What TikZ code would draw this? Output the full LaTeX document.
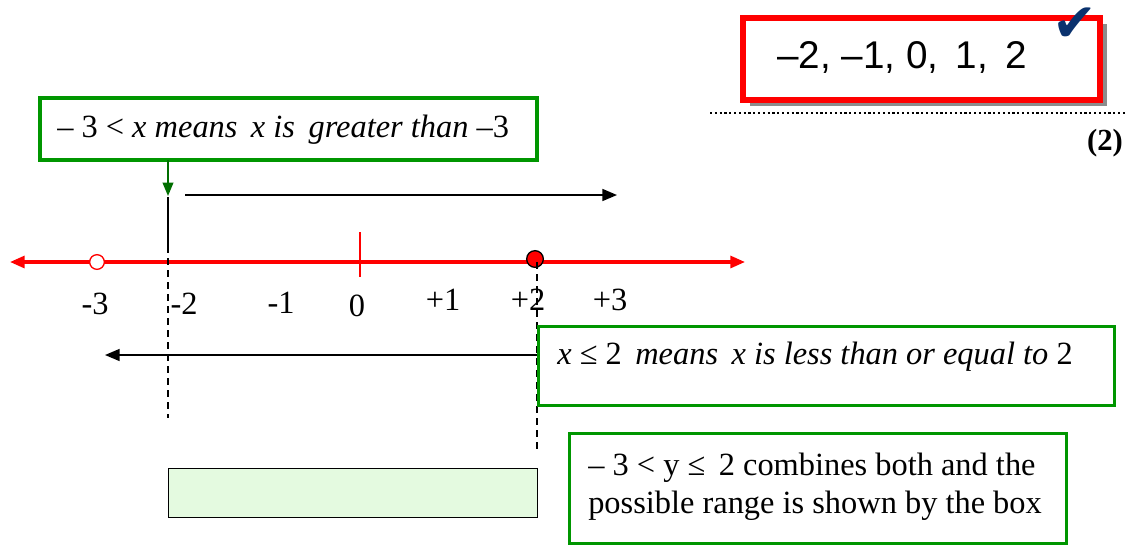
\documentclass[tikz,border=0pt]{standalone}
\usepackage{fontspec}
\setmainfont{Liberation Serif}
\newfontfamily\arialf{Liberation Sans}
\newfontfamily\djv{DejaVu Sans}
\usetikzlibrary{arrows.meta}
\definecolor{gbox}{RGB}{0,150,0}
\definecolor{dgreen}{RGB}{0,110,0}
\definecolor{lgreen}{RGB}{228,250,224}
\definecolor{navyck}{RGB}{10,50,110}
\begin{document}
\begin{tikzpicture}[x=0.75pt,y=-0.75pt,
  gbx/.style={draw=gbox,line width=2.4pt,inner sep=0pt},
  txt/.style={inner sep=0pt,font=\fontsize{24.3}{28}\selectfont},
  numlab/.style={inner sep=0pt,font=\fontsize{24.3}{28}\selectfont},
  redline/.style={draw=red,line width=2.3pt}]
\useasboundingbox (0,0) rectangle (1137,544);

% answer box
\fill[gray!90] (750,24) rectangle (1107,106);
\node[draw=red,fill=white,line width=3.8pt,minimum width=267.75pt,minimum height=61.5pt,inner sep=0pt] (ans) at (921.5,59) {};
\node[inner sep=0pt,font=\arialf\fontsize{29}{32}\selectfont] (anstxt) at (902,57) {–2, –1, 0,\, 1,\, 2};
\node[inner sep=0pt,text=navyck,font=\djv\fontsize{40}{42}\selectfont] (tick) at (1075,25) {✔};
\coordinate (dl) at (710,113);
\coordinate (dr) at (1125,113);
\draw[line width=1.6pt,dotted] (dl) -- (dr);
\node[inner sep=0pt,font=\bfseries\fontsize{23}{26}\selectfont] (two) at (1105,143) {(2)};

% number line
\coordinate (nl) at (10,262);
\coordinate (nr) at (745,262);
\draw[redline,{Triangle[length=11pt,width=9pt]}-{Triangle[length=11pt,width=9pt]}] (nl) -- (nr);
\coordinate (t0a) at (360,232);
\coordinate (t0b) at (360,277);
\draw[red,line width=1pt] (t0a) -- (t0b);
\node[circle,draw=red,fill=white,line width=1pt,minimum size=11pt,inner sep=0pt] (open) at (97,262) {};
\node[circle,draw=black,fill=red,line width=1pt,minimum size=12.5pt,inner sep=0pt] (closed) at (535,259) {};

\node[numlab] (lm3) at (95,304) {-3};
\node[numlab] (lm2) at (184,304) {-2};
\node[numlab] (lm1) at (281,303) {-1};
\node[numlab] (l0) at (357,306) {0};
\node[numlab] (lp1) at (443,300) {+1};
\node[numlab] (lp2) at (528,300) {+2};
\node[numlab] (lp3) at (610,300) {+3};

% box 1
\node[gbx,fill=white,minimum width=372.75pt,minimum height=46.5pt] (b1) at (288.5,129) {};
\node[txt,anchor=west] (b1t) at (57,130) {– 3 < \textit{x means\, x is\, greater than} –3};
\coordinate (g1) at (168,160);
\coordinate (g2) at (168,196);
\draw[dgreen,line width=1.2pt,-{Triangle[length=10pt,width=8pt]}] (g1) -- (g2);
\coordinate (ra) at (185,195);
\coordinate (rb) at (617,195);
\draw[line width=1.2pt,-{Triangle[length=11pt,width=9pt]}] (ra) -- (rb);
\coordinate (v1a) at (168,197);
\coordinate (v1b) at (168,246);
\coordinate (v1c) at (168,418);
\draw[line width=1.2pt] (v1a) -- (v1b);
\draw[line width=1.2pt,dash pattern=on 5pt off 4pt] (v1b) -- (v1c);

% right dashed
\coordinate (v2a) at (537,262);
\coordinate (v2b) at (537,452);
\draw[line width=1.2pt,dash pattern=on 5pt off 4pt] (v2a) -- (v2b);

% box 2
\node[gbx,fill=white,minimum width=432pt,minimum height=59.25pt,anchor=north west] (b2) at (537,325) {};
\node[txt,anchor=west] (b2t) at (557,357) {\textit{x} ≤ 2\, \textit{means\, x is less than or equal to} 2};
\coordinate (la) at (537,355);
\coordinate (lb) at (105,355);
\draw[line width=1.2pt,-{Triangle[length=11pt,width=9pt]}] (la) -- (lb);

% box 3
\node[gbx,fill=white,minimum width=372.75pt,minimum height=82.5pt,anchor=north west] (b3) at (568,432) {};
\node[inner sep=0pt,font=\fontsize{24.3}{28.5}\selectfont,anchor=north west,align=left] (b3t) at (588,453) {– 3 < y ≤\, 2 combines both and the\\possible range is shown by the box};

% range box
\node[draw=black,fill=lgreen,line width=1.1pt,minimum width=276.75pt,minimum height=36.75pt,anchor=north west,inner sep=0pt] (range) at (168,468) {};
\end{tikzpicture}
\end{document}
